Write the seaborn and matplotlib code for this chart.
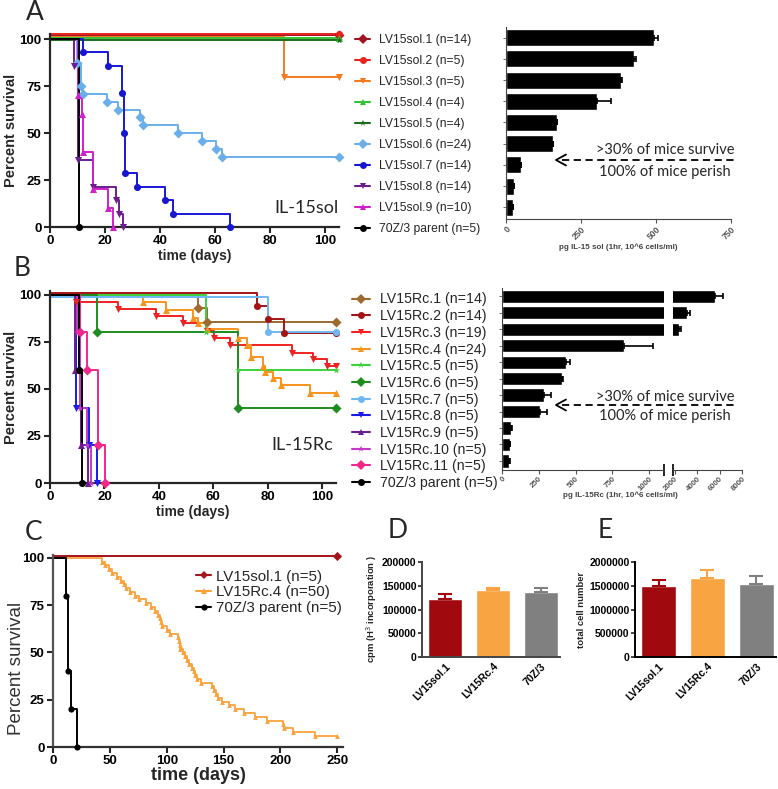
import numpy as np
import pandas as pd
import seaborn as sns
import matplotlib.pyplot as plt
from matplotlib.lines import Line2D

sns.set_theme(style='ticks')
plt.rcParams['font.family'] = ['Liberation Sans', 'DejaVu Sans']

W, H = 778, 789

# ---------------- data: panel A (IL-15sol) ----------------
sol_labels = ['LV15sol.1 (n=14)', 'LV15sol.2 (n=5)', 'LV15sol.3 (n=5)', 'LV15sol.4 (n=4)',
              'LV15sol.5 (n=4)', 'LV15sol.6 (n=24)', 'LV15sol.7 (n=14)', 'LV15sol.8 (n=14)',
              'LV15sol.9 (n=10)', '70Z/3 parent (n=5)']
sol_colors = ['#9E1420', '#E8231E', '#F47A20', '#35C235', '#1C6E1C', '#6AAEEA',
              '#1717D2', '#6A1D8C', '#D020CC', '#000000']
sol_markers = ['D', 'o', 'v', '^', '*', 'D', 'o', 'v', '^', 'o']
sol_days = [
    [0, 105],
    [0, 105],
    [0, 85.2, 105],
    [0, 105],
    [0, 105],
    [0, 9.8, 11.3, 12, 20.8, 24.8, 32.7, 33.7, 46.7, 55.4, 60.3, 62.4, 105],
    [0, 12, 21, 26, 27, 27.3, 31.7, 41.8, 44.9, 65.5],
    [0, 8.7, 10, 15.7, 24, 25, 26.6],
    [0, 10, 11.5, 12, 15.7, 21, 22.8],
    [0, 10.5],
]
sol_surv = [
    [102, 102],
    [102.7, 102.7],
    [101.2, 80, 80],
    [100.4, 100.4],
    [99.8, 99.8],
    [100, 87.5, 75, 70.8, 66.7, 62.5, 58.3, 54.2, 50, 45.8, 41.7, 37.5, 37.5],
    [100, 92.9, 85.7, 71.4, 50, 28.6, 21.4, 14.3, 7.1, 0],
    [100, 85.7, 35.7, 21.4, 14.3, 7.1, 0],
    [100, 70, 60, 40, 20, 10, 0],
    [100, 0],
]
sol_bar_names = ['LV15sol.%d' % i for i in range(1, 10)]
sol_bar_vals = [494, 428, 383, 304, 171, 156, 51, 27, 22]
sol_bar_errs = [12, 4, 2, 45, 0, 0, 0, 0, 0]

# ---------------- data: panel B (IL-15Rc) ----------------
rc_labels = ['LV15Rc.1 (n=14)', 'LV15Rc.2 (n=14)', 'LV15Rc.3 (n=19)', 'LV15Rc.4 (n=24)',
             'LV15Rc.5 (n=5)', 'LV15Rc.6 (n=5)', 'LV15Rc.7 (n=5)', 'LV15Rc.8 (n=5)',
             'LV15Rc.9 (n=5)', 'LV15Rc.10 (n=5)', 'LV15Rc.11 (n=5)', '70Z/3 parent (n=5)']
rc_colors = ['#9C6B30', '#A31515', '#EE2222', '#F7941D', '#3CD23C', '#1E8C1E',
             '#6FB7F2', '#1A1AEB', '#6B1F8F', '#C23BC4', '#F0288C', '#000000']
rc_markers = ['D', 'o', 'v', '^', '*', 'D', 'o', 'v', '^', '*', 'D', 'o']
rc_days = [
    [0, 54.5, 57.6, 105],
    [0, 76, 80, 86, 105],
    [0, 9.6, 25, 39, 48.8, 57.6, 60.4, 66, 88.8, 96.6, 101.9, 105],
    [0, 34.3, 42.5, 52.5, 54.3, 57.6, 69, 72.3, 74, 78.2, 79, 81.9, 84.9, 95.6, 105],
    [0, 57.4, 69, 105],
    [0, 17.4, 69, 105],
    [0, 80, 105],
    [0, 9.6, 14.5, 17.4],
    [0, 9.2, 11.4, 14],
    [0, 10, 11, 13.5, 15],
    [0, 11, 13.5, 17.5, 20.2],
    [0, 10.5, 11.6],
]
rc_surv = [
    [100, 92.9, 85.7, 85.7],
    [101, 94, 87, 79.6, 79.6],
    [100, 96.4, 92.4, 88.8, 84.9, 81, 77, 73.4, 69, 65.8, 61.9, 61.9],
    [100, 95.9, 92, 87.6, 85, 81.7, 77, 73.4, 66.9, 61.9, 59.2, 55.7, 52.1, 48, 48],
    [100, 80, 60, 60],
    [100, 80, 40, 40],
    [99, 80, 80],
    [100, 40, 20, 0],
    [100, 60, 20, 0],
    [100, 80, 40, 20, 0],
    [100, 80, 60, 20, 0],
    [100, 60, 0],
]
rc_bar_names = ['LV15Rc.%d' % i for i in range(1, 12)]
rc_bar_vals = [5600, 3090, 2350, 827, 432, 405, 288, 259, 63, 52, 50]
rc_bar_errs = [700, 300, 200, 198, 30, 7, 45, 45, 3, 2, 3]

# ---------------- data: panel C ----------------
c_labels = ['LV15sol.1 (n=5)', 'LV15Rc.4 (n=50)', '70Z/3 parent (n=5)']
c_colors = ['#A3141C', '#F9A23C', '#000000']
c_markers = ['D', '^', 'o']
c_sol_days = [0, 250]
c_sol_surv = [101, 101]
c_rc_days = [0, 43, 46, 49, 52, 56, 60, 62, 64, 68, 72, 76, 82, 86, 90, 92, 94, 95, 96, 100,
             103, 110, 111, 111.5, 112, 114, 116, 118, 120, 122, 124, 125, 127, 130, 140,
             142, 143, 145, 149, 155, 160, 168, 178, 188, 202, 203, 211, 230, 250]
c_rc_surv = [100, 98, 96, 94, 92, 90, 88, 86, 84, 82, 80, 78, 76, 74, 72, 70, 68, 66, 64, 62,
             60, 58, 56, 54, 52, 50, 48, 46, 44, 42, 40, 38, 36, 34, 32, 30, 28, 26, 24, 22,
             20, 18, 16, 14, 12, 10, 8, 6, 6]
c_par_days = [0, 11.4, 13.5, 15.8, 20.8]
c_par_surv = [100, 80, 40, 20, 0]

# ---------------- data: panels D and E ----------------
de_groups = ['LV15sol.1', 'LV15Rc.4', '70Z/3']
de_colors = ['#A00A0F', '#F9A443', '#808080']
cpm_vals = [122000, 142000, 137000]
cpm_errs = [10000, 3000, 9000]
cell_vals = [1500000, 1660000, 1540000]
cell_errs = [130000, 170000, 160000]


def rect(l, t, r, b):
    return [l / W, 1 - b / H, (r - l) / W, (b - t) / H]


def bold_ticks(ax, size, color='black'):
    ax.tick_params(labelsize=size, labelcolor=color)
    for lab in ax.get_xticklabels() + ax.get_yticklabels():
        lab.set_fontweight('bold')


def survival(ax, days, surv, color, marker, ms, lw=1.4):
    df = pd.DataFrame({'t': days, 's': surv})
    sns.lineplot(data=df, x='t', y='s', ax=ax, color=color, lw=lw, drawstyle='steps-post',
                 estimator=None, sort=False, clip_on=False)
    sns.scatterplot(data=df.iloc[1:], x='t', y='s', ax=ax, color=color, marker=marker,
                    s=ms, linewidth=0, clip_on=False, zorder=4)


def style_surv(ax, xmax, xticks, ymax, xlabel_size, ylabel_weight, ylabel_size, xlabel_pad=1):
    ax.set_xlim(0, xmax)
    ax.set_ylim(0, ymax)
    ax.set_xticks(xticks)
    ax.set_yticks([0, 25, 50, 75, 100])
    for sp in ['left', 'bottom']:
        ax.spines[sp].set_linewidth(1.6)
    sns.despine(ax=ax)
    ax.tick_params(width=1.5, length=4, pad=2)
    bold_ticks(ax, 9.5)
    ax.set_xlabel('time (days)', fontsize=xlabel_size, fontweight='bold', labelpad=xlabel_pad)
    ax.set_ylabel('Percent survival', fontsize=ylabel_size, fontweight=ylabel_weight, labelpad=3)


def handles(colors, markers, ms=5):
    return [Line2D([0], [0], color=c, marker=m, markersize=ms, lw=1.5, markeredgewidth=0)
            for c, m in zip(colors, markers)]


def hbars(ax, names, vals, errs):
    sns.barplot(x=vals, y=names, orient='h', color='black', width=0.8, saturation=1, ax=ax)
    ax.errorbar(vals, np.arange(len(vals)), xerr=[np.zeros(len(vals)), errs], fmt='none',
                ecolor='black', elinewidth=1.2, capsize=2, capthick=1.2)
    ax.set_yticklabels([])
    ax.set_ylabel('')
    ax.set_ylim(len(vals) - 0.45, -0.5)
    sns.despine(ax=ax)
    ax.tick_params(axis='y', length=2, width=0.6, color='#555555')
    ax.tick_params(axis='x', length=3, width=0.8, color='#555555', pad=1)
    ax.spines['left'].set_color('#444444')
    ax.spines['bottom'].set_color('#444444')
    ax.spines['left'].set_linewidth(0.8)
    ax.spines['bottom'].set_linewidth(0.8)


def rot_labels(ax, size):
    for lab in ax.get_xticklabels():
        lab.set_rotation(45)
        lab.set_ha('right')
        lab.set_rotation_mode('anchor')
        lab.set_fontsize(size)
        lab.set_color('#555555')
        lab.set_fontweight('bold')


def arrow_note(fig, y_line, y_top, y_bot):
    fig.add_artist(Line2D([562 / W, 735 / W], [1 - y_line / H] * 2, color='black', lw=1.3,
                          ls=(0, (4, 2.5))))
    fig.add_artist(Line2D([566 / W, 556 / W, 566 / W],
                          [1 - (y_line - 5.5) / H, 1 - y_line / H, 1 - (y_line + 5.5) / H],
                          color='black', lw=1.3))
    fig.text(665 / W, 1 - y_top / H, '>30% of mice survive', ha='center', va='center',
             fontsize=10.5, family='Lato')
    fig.text(665 / W, 1 - y_bot / H, '100% of mice perish', ha='center', va='center',
             fontsize=10.5, family='Lato')


fig = plt.figure(figsize=(W / 100, H / 100), dpi=100)

# ---------------- panel A survival ----------------
axA = fig.add_axes(rect(50, 33.5, 338.75, 227))
for i in range(len(sol_labels)):
    survival(axA, sol_days[i], sol_surv[i], sol_colors[i], sol_markers[i], 26)
style_surv(axA, 105, [0, 20, 40, 60, 80, 100], 103, 10, 'bold', 10.5)
axA.yaxis.set_label_coords(-0.112, 0.5)
axA.text(1.0, 0.1, 'IL-15sol', transform=axA.transAxes, ha='right', va='center',
         fontsize=13, family='Lato')
fig.legend(handles(sol_colors, sol_markers), sol_labels, loc='upper left',
           bbox_to_anchor=(355 / W, 1 - 34.5 / H), frameon=False, fontsize=8.7,
           handlelength=1.25, handletextpad=0.75, labelspacing=0.74, borderpad=0,
           borderaxespad=0)

# ---------------- panel A bars ----------------
axAb = fig.add_axes(rect(506, 27, 731, 219))
hbars(axAb, sol_bar_names, sol_bar_vals, sol_bar_errs)
axAb.set_xlim(0, 750)
axAb.set_xticks([0, 250, 500, 750])
rot_labels(axAb, 6.2)
axAb.set_xlabel('pg IL-15 sol (1hr, 10^6 cells/ml)', fontsize=5.8, fontweight='bold',
                color='#444444', labelpad=2)
arrow_note(fig, 160, 150, 172)

# ---------------- panel B survival ----------------
axB = fig.add_axes(rect(50, 291, 335.6, 483))
for i in range(len(rc_labels)):
    survival(axB, rc_days[i], rc_surv[i], rc_colors[i], rc_markers[i], 26)
style_surv(axB, 105, [0, 20, 40, 60, 80, 100], 102, 10, 'bold', 10.5)
axB.yaxis.set_label_coords(-0.112, 0.5)
axB.text(0.99, 0.2, 'IL-15Rc', transform=axB.transAxes, ha='right', va='center',
         fontsize=13, family='Lato')
fig.legend(handles(rc_colors, rc_markers), rc_labels, loc='upper left',
           bbox_to_anchor=(352 / W, 1 - 292.5 / H), frameon=False, fontsize=10.2,
           handlelength=1.27, handletextpad=0.7, labelspacing=0.19, borderpad=0,
           borderaxespad=0)

# ---------------- panel B bars (broken axis) ----------------
axBl = fig.add_axes(rect(502, 288, 664, 470))
hbars(axBl, rc_bar_names, rc_bar_vals, rc_bar_errs)
axBl.set_xlim(0, 1100)
axBl.set_xticks([0, 250, 500, 750, 1000])
rot_labels(axBl, 5.6)
axBr = fig.add_axes(rect(673, 288, 742, 470))
hbars(axBr, rc_bar_names, rc_bar_vals, rc_bar_errs)
axBr.set_xlim(1850, 8000)
axBr.set_xticks([2000, 4000, 6000, 8000])
rot_labels(axBr, 5.6)
axBr.spines['left'].set_visible(False)
axBr.tick_params(axis='y', length=0)
for ax_, xpos in [(axBl, 1), (axBr, 0)]:
    ax_.plot([xpos], [0], marker='|', markersize=9, mew=1.2, color='black',
             transform=ax_.transAxes, clip_on=False)
fig.text(620 / W, 1 - 495 / H, 'pg IL-15Rc (1hr, 10^6 cells/ml)', ha='center', va='center',
         fontsize=5.8, fontweight='bold', color='#444444')
arrow_note(fig, 405, 397, 416)

# ---------------- panel C ----------------
axC = fig.add_axes(rect(53, 555, 343, 747))
survival(axC, c_sol_days, c_sol_surv, c_colors[0], c_markers[0], 22)
survival(axC, c_rc_days, c_rc_surv, c_colors[1], c_markers[1], 12, lw=1.3)
survival(axC, c_par_days, c_par_surv, c_colors[2], c_markers[2], 20)
style_surv(axC, 255, [0, 50, 100, 150, 200, 250], 101.5, 13, 'normal', 13.5, xlabel_pad=0)
axC.spines['left'].set_color('#555555')
axC.spines['bottom'].set_color('#333333')
axC.yaxis.label.set_color('#333333')
axC.yaxis.set_label_coords(-0.095, 0.41)
fig.legend(handles(c_colors, c_markers, 4.5), c_labels, loc='upper left',
           bbox_to_anchor=(196 / W, 1 - 569.5 / H), frameon=False, fontsize=10.9,
           handlelength=1.0, handletextpad=0.35, labelspacing=0.13, borderpad=0,
           borderaxespad=0)


# ---------------- panels D and E ----------------
def vbars(ax, vals, errs, ymax, yticks, ylabel, spine_color):
    sns.barplot(x=de_groups, y=vals, hue=de_groups, palette=de_colors, legend=False,
                width=0.7, saturation=1, ax=ax)
    for i in range(3):
        ax.errorbar([i], [vals[i]], yerr=[[0], [errs[i]]], fmt='none', ecolor=de_colors[i],
                    elinewidth=1.5, capsize=5, capthick=1.5)
    ax.set_ylim(0, ymax)
    ax.set_xlim(-0.48, 2.4)
    ax.set_yticks(yticks)
    ax.ticklabel_format(axis='y', style='plain', useOffset=False)
    sns.despine(ax=ax)
    for sp in ['left', 'bottom']:
        ax.spines[sp].set_linewidth(1.4)
        ax.spines[sp].set_color(spine_color)
    ax.tick_params(axis='y', width=1.2, length=3, pad=1)
    ax.tick_params(axis='x', length=0, pad=3)
    bold_ticks(ax, 7.5)
    for lab in ax.get_xticklabels():
        lab.set_rotation(45)
        lab.set_ha('right')
        lab.set_rotation_mode('anchor')
    ax.set_ylabel(ylabel, fontsize=6.8, fontweight='bold', labelpad=2)


axD = fig.add_axes(rect(422, 562, 560, 657))
vbars(axD, cpm_vals, cpm_errs, 200000, [0, 50000, 100000, 150000, 200000],
      'cpm (H$^3$ incorporation )', '#444444')
axE = fig.add_axes(rect(635, 562, 776, 657))
vbars(axE, cell_vals, cell_errs, 2000000, [0, 500000, 1000000, 1500000, 2000000],
      'total cell number', '#000000')

# ---------------- panel letters ----------------
for letter, x, y in [('A', 35, 12), ('B', 22, 268), ('C', 34, 532), ('D', 398, 531), ('E', 605, 531)]:
    fig.text(x / W, 1 - y / H, letter, ha='center', va='center', fontsize=19, family='Lato')

fig.savefig('out.png', dpi=100)
